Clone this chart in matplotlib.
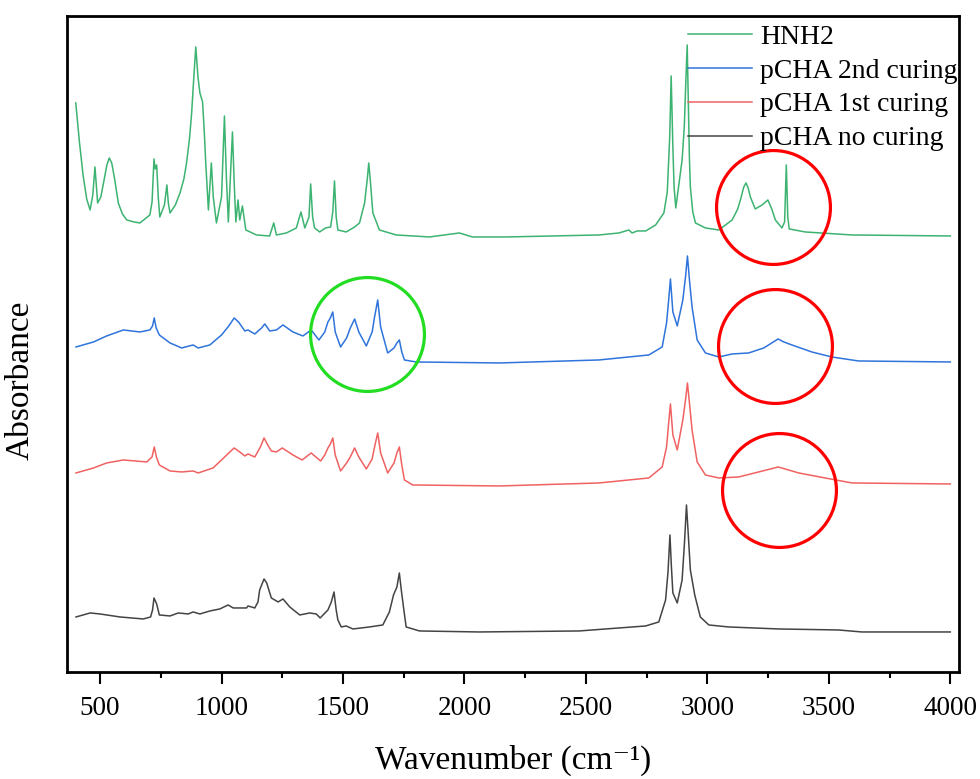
import numpy as np
import matplotlib
matplotlib.use("Agg")
import matplotlib.pyplot as plt
from matplotlib.ticker import MultipleLocator

# ── spectra (wavenumber, absorbance above own baseline) ──
wn_hnh2 = [400, 415, 430, 445, 459, 470, 479, 490, 503, 515, 528, 538, 548, 560, 575, 592, 610, 640,
           664, 705, 714, 722, 727, 733, 740, 746, 765, 775, 781, 788, 810, 829, 845, 856, 868, 877,
           886, 894, 903, 911, 922, 929, 935, 946, 958, 966, 979, 1000, 1012, 1020, 1028, 1045,
           1052, 1059, 1068, 1075, 1086, 1100, 1144, 1198, 1215, 1226, 1267, 1308, 1327, 1343,
           1360, 1367, 1375, 1383, 1404, 1428, 1449, 1458, 1465, 1472, 1479, 1513, 1548, 1568,
           1589, 1600, 1606, 1613, 1623, 1650, 1719, 1856, 1979, 2033, 2171, 2554, 2636, 2677,
           2690, 2711, 2746, 2787, 2821, 2835, 2845, 2851, 2858, 2863, 2870, 2896, 2905, 2912,
           2917, 2922, 2926, 2930, 2940, 2951, 2992, 3047, 3102, 3125, 3136, 3150, 3159, 3168,
           3177, 3197, 3225, 3249, 3265, 3280, 3307, 3318, 3325, 3331, 3337, 3403, 3595, 4000]
ab_hnh2 = [1.34, 0.95, 0.62, 0.38, 0.27, 0.42, 0.70, 0.34, 0.40, 0.55, 0.72, 0.79, 0.74, 0.58, 0.34, 0.23, 0.17, 0.15,
           0.14, 0.22, 0.35, 0.78, 0.68, 0.72, 0.38, 0.20, 0.32, 0.52, 0.34, 0.24, 0.32, 0.44, 0.58, 0.74, 0.98, 1.24,
           1.60, 1.90, 1.60, 1.44, 1.35, 1.05, 0.74, 0.27, 0.74, 0.40, 0.14, 0.40, 1.21, 0.60, 0.15, 1.05,
           0.55, 0.15, 0.37, 0.17, 0.31, 0.07, 0.02, 0.01, 0.14, 0.02, 0.04, 0.09, 0.25, 0.09,
           0.20, 0.53, 0.20, 0.09, 0.05, 0.09, 0.10, 0.25, 0.56, 0.20, 0.07, 0.05, 0.10, 0.14,
           0.34, 0.58, 0.74, 0.55, 0.24, 0.07, 0.02, 0.00, 0.04, 0.00, 0.00, 0.02, 0.04, 0.07,
           0.04, 0.06, 0.06, 0.12, 0.24, 0.45, 1.00, 1.61, 0.90, 0.50, 0.29, 0.77, 1.10, 1.60,
           1.92, 1.30, 0.80, 0.50, 0.25, 0.14, 0.09, 0.07, 0.17, 0.28, 0.37, 0.50, 0.54, 0.49,
           0.40, 0.28, 0.32, 0.37, 0.28, 0.17, 0.09, 0.15, 0.72, 0.20, 0.08, 0.05, 0.02, 0.01]

wn_2nd = [401, 473, 527, 596, 664, 705, 716, 723, 731, 744, 788, 836, 883, 904, 952, 1000, 1030,
          1052, 1070, 1096, 1109, 1137, 1165, 1178, 1190, 1198, 1226, 1253, 1294, 1335, 1369, 1401,
          1425, 1438, 1448, 1458, 1468, 1490, 1515, 1530, 1548, 1565, 1596, 1620, 1630, 1643, 1655,
          1684, 1710, 1722, 1732, 1742, 1753, 1801, 2143, 2554, 2759, 2814, 2832, 2840, 2848,
          2858, 2876, 2899, 2910, 2918, 2927, 2937, 2958, 2992, 3047, 3102, 3170, 3232, 3265,
          3291, 3315, 3348, 3430, 3512, 3622, 4000]
ab_2nd = [0.15, 0.20, 0.26, 0.32, 0.30, 0.32, 0.36, 0.44, 0.34, 0.27, 0.19, 0.14, 0.17, 0.14, 0.17, 0.27, 0.36,
          0.44, 0.40, 0.31, 0.32, 0.28, 0.34, 0.38, 0.34, 0.31, 0.32, 0.37, 0.30, 0.26, 0.32, 0.22,
          0.30, 0.40, 0.44, 0.50, 0.30, 0.15, 0.24, 0.34, 0.43, 0.30, 0.16, 0.30, 0.45, 0.62, 0.35,
          0.09, 0.14, 0.19, 0.22, 0.10, 0.02, 0.00, -0.01, 0.02, 0.07, 0.15, 0.39, 0.60, 0.83,
          0.50, 0.36, 0.62, 0.85, 1.06, 0.80, 0.55, 0.22, 0.09, 0.05, 0.08, 0.09, 0.14, 0.19,
          0.23, 0.20, 0.17, 0.10, 0.05, 0.01, 0.00]

wn_1st = [401, 473, 527, 596, 692, 714, 723, 732, 744, 788, 836, 883, 904, 965, 1000, 1030, 1052,
          1075, 1096, 1109, 1137, 1160, 1175, 1190, 1205, 1226, 1250, 1294, 1332, 1369, 1408, 1425,
          1438, 1448, 1458, 1468, 1490, 1515, 1530, 1548, 1565, 1596, 1620, 1630, 1643, 1655, 1684,
          1710, 1722, 1732, 1742, 1753, 1787, 2143, 2554, 2759, 2814, 2832, 2840, 2848, 2858,
          2876, 2899, 2910, 2918, 2927, 2937, 2958, 2992, 3047, 3129, 3211, 3260, 3291, 3320,
          3376, 3485, 3595, 4000]
ab_1st = [0.12, 0.17, 0.22, 0.25, 0.23, 0.28, 0.38, 0.28, 0.20, 0.14, 0.13, 0.14, 0.12, 0.17, 0.25, 0.32, 0.37,
          0.33, 0.29, 0.31, 0.28, 0.38, 0.47, 0.40, 0.34, 0.33, 0.37, 0.30, 0.25, 0.32, 0.24, 0.30,
          0.37, 0.41, 0.47, 0.30, 0.14, 0.22, 0.28, 0.37, 0.28, 0.16, 0.26, 0.38, 0.52, 0.32, 0.12,
          0.22, 0.32, 0.38, 0.20, 0.05, 0.00, -0.01, 0.02, 0.07, 0.18, 0.38, 0.60, 0.81, 0.50,
          0.35, 0.65, 0.85, 1.02, 0.80, 0.55, 0.23, 0.10, 0.07, 0.08, 0.13, 0.16, 0.18, 0.16,
          0.12, 0.07, 0.02, 0.01]

wn_none = [401, 459, 500, 582, 678, 708, 716, 722, 733, 744, 788, 822, 863, 883, 911, 952, 993,
           1027, 1048, 1103, 1109, 1137, 1150, 1157, 1175, 1186, 1205, 1233, 1253, 1281, 1322, 1363,
           1390, 1406, 1438, 1452, 1463, 1472, 1479, 1493, 1513, 1541, 1609, 1664, 1691, 1708, 1722,
           1732, 1740, 1749, 1760, 1815, 2061, 2472, 2746, 2800, 2828, 2838, 2846, 2852, 2858,
           2876, 2896, 2906, 2914, 2922, 2930, 2948, 2971, 3006, 3088, 3294, 3540, 3636, 4000]
ab_none = [0.15, 0.19, 0.18, 0.15, 0.13, 0.15, 0.22, 0.34, 0.28, 0.17, 0.16, 0.19, 0.18, 0.20, 0.18, 0.21, 0.23,
           0.27, 0.24, 0.24, 0.26, 0.24, 0.30, 0.42, 0.53, 0.49, 0.34, 0.30, 0.33, 0.25, 0.17, 0.19,
           0.18, 0.14, 0.22, 0.30, 0.40, 0.22, 0.12, 0.05, 0.06, 0.03, 0.05, 0.07, 0.20, 0.37, 0.45,
           0.59, 0.42, 0.25, 0.05, 0.01, 0.00, 0.01, 0.06, 0.10, 0.32, 0.60, 0.97, 0.65, 0.39,
           0.29, 0.52, 0.90, 1.27, 0.95, 0.62, 0.37, 0.15, 0.07, 0.05, 0.03, 0.02, 0.00, 0.00]

labels  = ["HNH2", "pCHA 2nd curing", "pCHA 1st curing", "pCHA no curing"]
offsets = [4.35, 3.10, 1.87, 0.40]
colors  = ["#3cb371", "#2f74db", "#f06262", "#444444"]

# highlighted regions (wavenumber, absorbance) and ring colour
ring_wn  = [3270, 3280, 3295, 1600]
ring_ab  = [4.65, 3.26, 1.82, 3.38]
ring_col = ["#ff0000", "#ff0000", "#ff0000", "#22dd22"]

spectra = [(wn_hnh2, ab_hnh2), (wn_2nd, ab_2nd), (wn_1st, ab_1st), (wn_none, ab_none)]
for w, a in spectra:
    assert len(w) == len(a), (len(w), len(a))

plt.rcParams["font.family"] = ["Liberation Serif", "DejaVu Serif"]

fig = plt.figure(figsize=(9.8, 7.79), dpi=100)
ax = fig.add_axes([0.0684, 0.1374, 0.9102, 0.8421])

for (w, a), off, col, lab in zip(spectra, offsets, colors, labels):
    ax.plot(w, np.array(a) + off, color=col, lw=1.1, label=lab)

for x, y, c in zip(ring_wn, ring_ab, ring_col):
    ax.plot(x, y, marker="o", markersize=82, markerfacecolor="none",
            markeredgecolor=c, markeredgewidth=2.3, linestyle="none")

ax.set_xlim(364, 4036)
ax.set_ylim(0, 6.56)
ax.xaxis.set_major_locator(MultipleLocator(500))
ax.xaxis.set_minor_locator(MultipleLocator(250))
ax.set_yticks([])
ax.tick_params(axis="x", which="major", direction="out", length=8.5, width=1.5,
               labelsize=19.5, pad=9)
ax.tick_params(axis="x", which="minor", direction="out", length=4.5, width=1.5)
for s in ax.spines.values():
    s.set_linewidth(2.0)

ax.set_xlabel("Wavenumber (cm\u207b\u00b9)", fontsize=24, labelpad=17)
ax.set_ylabel("Absorbance", fontsize=24)
ax.yaxis.set_label_coords(-0.035, 0.445)

ax.legend(loc="upper left", bbox_to_anchor=(0.696, 0.987), frameon=False, fontsize=20,
          handlelength=2.3, handletextpad=0.3, labelspacing=0.3, borderpad=0,
          borderaxespad=0)

plt.savefig("out.png", dpi=100)
plt.close()
